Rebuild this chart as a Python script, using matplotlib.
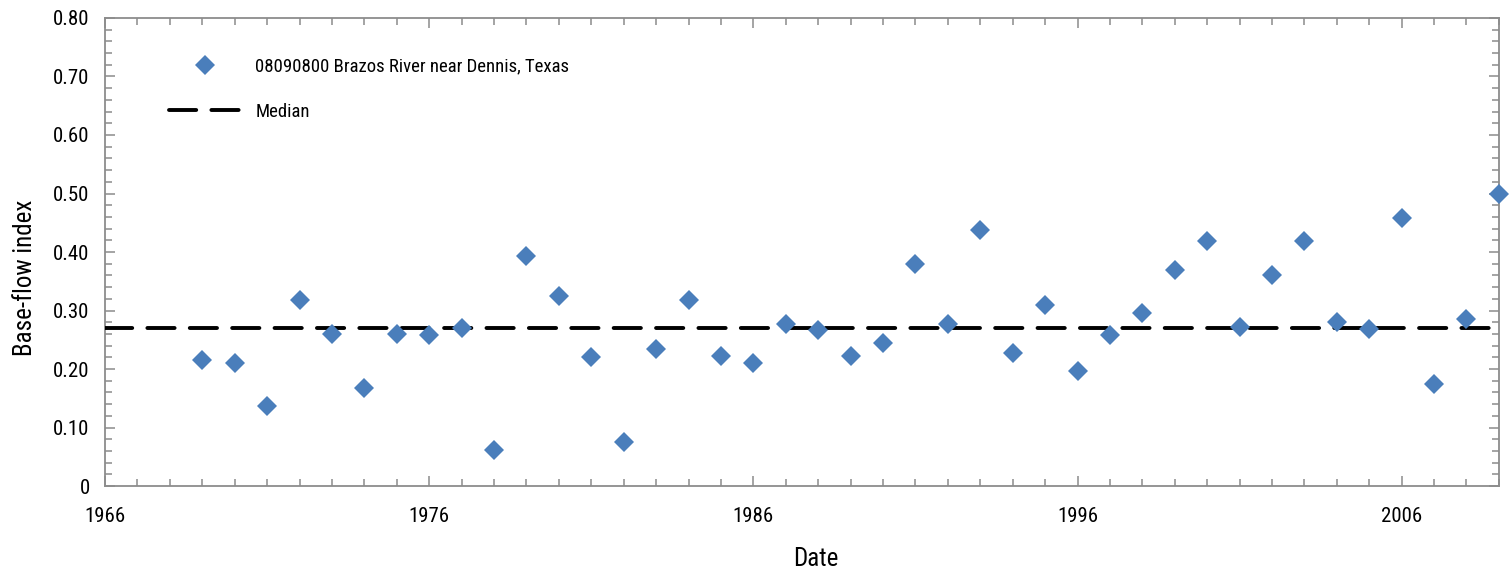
import matplotlib
matplotlib.use("Agg")
import matplotlib.pyplot as plt
from matplotlib.ticker import MultipleLocator, FixedLocator

# ---- font: condensed sans if present, otherwise Roboto ----
plt.rcParams['font.family'] = ['Roboto Condensed', 'Roboto', 'DejaVu Sans']

# ---- data: annual base-flow index, 08090800 Brazos River near Dennis, Texas ----
years = list(range(1969, 2010))
bfi = [0.215, 0.211, 0.137, 0.318, 0.259, 0.167, 0.260, 0.258, 0.270, 0.062,
       0.394, 0.325, 0.220, 0.076, 0.235, 0.318, 0.222, 0.211, 0.277, 0.267,
       0.222, 0.244, 0.379, 0.277, 0.437, 0.227, 0.309, 0.197, 0.258, 0.296,
       0.370, 0.419, 0.272, 0.360, 0.418, 0.280, 0.269, 0.458, 0.174, 0.285,
       0.499]
median_bfi = 0.27

x_ticks = [1966, 1976, 1986, 1996, 2006]
y_ticks = [0, 0.10, 0.20, 0.30, 0.40, 0.50, 0.60, 0.70, 0.80]
y_tick_labels = ['0', '0.10', '0.20', '0.30', '0.40', '0.50', '0.60', '0.70', '0.80']

station = '08090800 Brazos River near Dennis, Texas'

blue = '#4a7ebb'
axis_gray = '#8c8c8c'

fig = plt.figure(figsize=(15.11, 5.73), dpi=100)
ax = fig.add_axes([0.0695, 0.1518, 0.9225, 0.8168])

ax.plot(years, bfi, linestyle='none', marker='D', markersize=10,
        markerfacecolor=blue, markeredgewidth=0, color=blue,
        clip_on=False, zorder=4, label=station)
ax.axhline(median_bfi, color='black', linewidth=2.8, dashes=(7.0, 3.9),
           dash_capstyle='round', zorder=3, label='Median')

ax.set_xlim(1966, 2009)
ax.set_ylim(0, 0.80)

ax.xaxis.set_major_locator(FixedLocator(x_ticks))
ax.xaxis.set_minor_locator(MultipleLocator(1))
ax.set_yticks(y_ticks)
ax.set_yticklabels(y_tick_labels)
ax.yaxis.set_minor_locator(MultipleLocator(0.02))

for s in ax.spines.values():
    s.set_color(axis_gray)
    s.set_linewidth(1.3)

ax.tick_params(which='both', direction='in', top=True, right=True,
               color=axis_gray, width=1.1, labelsize=15, labelcolor='black')
ax.tick_params(which='major', length=7)
ax.tick_params(which='minor', length=5)
ax.tick_params(axis='y', pad=11)
ax.tick_params(axis='x', pad=15)

ax.set_xlabel('Date', fontsize=18)
ax.xaxis.set_label_coords(0.51, -0.13)
ax.set_ylabel('Base-flow index', fontsize=18)
ax.yaxis.set_label_coords(-0.049, 0.445)

leg = ax.legend(loc='upper left', bbox_to_anchor=(0.046, 0.915), frameon=False,
                fontsize=13.5, handlelength=3.8, handletextpad=0.8,
                labelspacing=1.45, borderpad=0, borderaxespad=0)

fig.savefig('out.png', dpi=100)
